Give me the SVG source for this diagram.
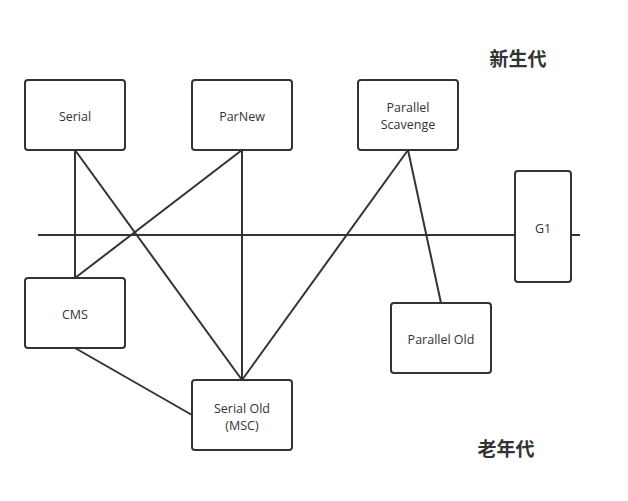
<svg xmlns="http://www.w3.org/2000/svg" width="628" height="501" viewBox="0 0 628 501">
<style>
.box{fill:#fff;stroke:#333;stroke-width:2}
.lbl{font-family:"Open Sans","Noto Sans","Noto Sans CJK SC",sans-serif;font-size:12.5px;fill:#333;text-anchor:middle}
.ttl{font-family:"Noto Sans CJK SC",sans-serif;font-size:19px;font-weight:bold;fill:#333;text-anchor:middle}
.ln{stroke:#333;stroke-width:2;fill:none}
</style>
<rect width="628" height="501" fill="#fff"/>
<g id="connectors">
<line class="ln" x1="38" y1="235" x2="580" y2="235"/>
<line class="ln" x1="75" y1="150" x2="75" y2="278"/>
<line class="ln" x1="75" y1="150" x2="242" y2="380"/>
<line class="ln" x1="242" y1="150" x2="75" y2="278"/>
<line class="ln" x1="242" y1="150" x2="242" y2="380"/>
<line class="ln" x1="408" y1="150" x2="242" y2="380"/>
<line class="ln" x1="408" y1="150" x2="441" y2="303"/>
<line class="ln" x1="75" y1="348" x2="192" y2="415"/>
</g>
<g id="serial"><rect class="box" x="25" y="80" width="100" height="70" rx="3"/><text class="lbl" x="75" y="121">Serial</text></g>
<g id="parnew"><rect class="box" x="192" y="80" width="100" height="70" rx="3"/><text class="lbl" x="242" y="121">ParNew</text></g>
<g id="parallel-scavenge"><rect class="box" x="358" y="80" width="100" height="70" rx="3"/><text class="lbl" x="408" y="112">Parallel</text><text class="lbl" x="408" y="129">Scavenge</text></g>
<g id="g1"><rect class="box" x="515" y="171" width="56" height="111" rx="3"/><text class="lbl" x="543" y="233">G1</text></g>
<g id="cms"><rect class="box" x="25" y="278" width="100" height="70" rx="3"/><text class="lbl" x="75" y="319">CMS</text></g>
<g id="serial-old"><rect class="box" x="192" y="380" width="100" height="70" rx="3"/><text class="lbl" x="242" y="413">Serial Old</text><text class="lbl" x="242" y="430">(MSC)</text></g>
<g id="parallel-old"><rect class="box" x="391" y="303" width="100" height="70" rx="3"/><text class="lbl" x="441" y="344">Parallel Old</text></g>
<text class="ttl" x="518" y="66">新生代</text>
<text class="ttl" x="506" y="456">老年代</text>
</svg>
